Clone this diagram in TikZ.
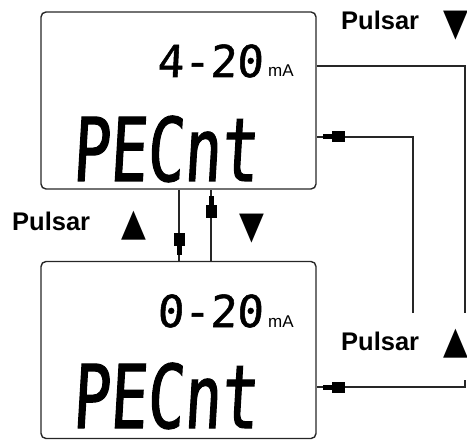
\documentclass[tikz,border=0pt]{standalone}
\usepackage{fontspec}
\setmainfont{Liberation Sans}
\newfontfamily\lcdbig[FakeSlant=0.06,FakeStretch=0.70,FakeBold=1.2]{DejaVu Sans Mono}
\newfontfamily\lcdsmall[FakeSlant=0.05,FakeStretch=1.0,FakeBold=1.2]{DejaVu Sans Mono}
\newfontfamily\symf[FakeStretch=0.85]{DejaVu Sans}
\usetikzlibrary{decorations.markings}
\tikzset{
  lcdbox/.style={draw=black!85, line width=1.4bp, rounded corners=5bp, minimum width=275bp, minimum height=177bp, inner sep=0},
  conn/.style={draw=black!85, line width=1.3bp},
  arr/.style={postaction={decorate}, decoration={markings, mark=at position -6bp with {\fill[black] (-22bp,-5.5bp) rectangle (-9bp,5.5bp); \fill[black] (-9bp,-2.5bp) rectangle (0bp,2.5bp);}}},
  bigtxt/.style={anchor=base west, inner sep=0, font=\fontsize{88bp}{88bp}\lcdbig},
  valtxt/.style={anchor=base west, inner sep=0, font=\fontsize{44bp}{44bp}\lcdsmall},
  unittxt/.style={anchor=base west, inner sep=0, font=\fontsize{17bp}{17bp}\selectfont},
  pulsar/.style={anchor=base west, inner sep=0, font=\fontsize{25.5bp}{25.5bp}\selectfont\bfseries},
  tri/.style={anchor=base west, inner sep=0, font=\fontsize{38bp}{38bp}\symf}
}
\begin{document}
\begin{tikzpicture}[x=1bp,y=-1bp]
\useasboundingbox (0,0) rectangle (467,440);
% boxes
\node[lcdbox] (top) at (178.5,100.5) {};
\node[lcdbox] (bot) at (178.5,350) {};
% box texts
\node[valtxt] (topval) at (157,77) {4-20};
\node[unittxt] (topunit) at (268,77) {mA};
\node[bigtxt] (topmode) at (72,181) {PECnt};
\node[valtxt] (botval) at (157,327) {0-20};
\node[unittxt] (botunit) at (268,327) {mA};
\node[bigtxt] (botmode) at (72,428) {PECnt};
% labels
\node[pulsar] (p1) at (341,29.5) {Pulsar};
\node[tri] (t1) at (443,36) {▼};
\node[pulsar] (p2) at (12,231) {Pulsar};
\node[tri] (t2) at (121,235) {▲};
\node[tri] (t3) at (239,238) {▼};
\node[pulsar] (p3) at (341,350.5) {Pulsar};
\node[tri] (t4) at (443,353) {▲};
% connector points
\coordinate (c1) at (465,66);
\coordinate (gapT) at (465,313);
\coordinate (gapB) at (465,380);
\coordinate (c2) at (465,387);
\coordinate (c3) at (413,313);
\coordinate (c4) at (413,137);
\coordinate (dx) at (179,0);
\coordinate (ux) at (211,0);
% connectors
\draw[conn] (top.east |- c1) -- (c1) -- (gapT);
\draw[conn, arr] (gapB) -- (c2) -- (bot.east |- c2);
\draw[conn, arr] (c3) -- (c4) -- (top.east |- c4);
\draw[conn, arr] (top.south -| dx) -- (bot.north -| dx);
\draw[conn, arr] (bot.north -| ux) -- (top.south -| ux);
\end{tikzpicture}
\end{document}
